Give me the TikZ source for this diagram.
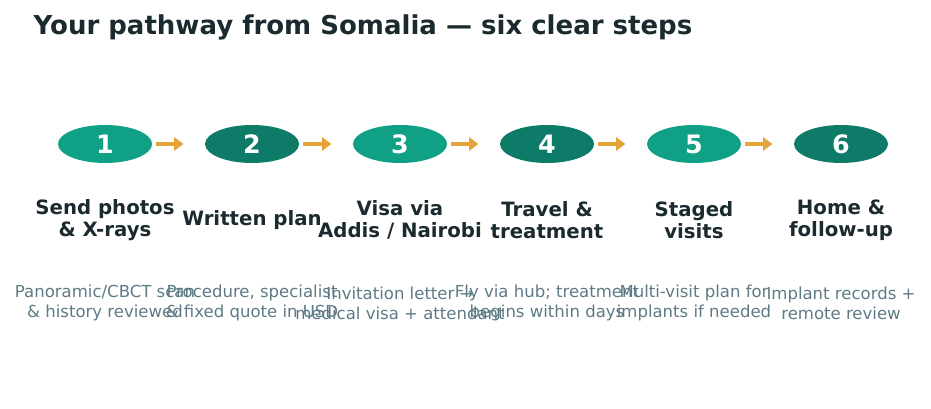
\documentclass[tikz,border=0pt]{standalone}
\usepackage{fontspec}
\setmainfont{DejaVu Sans}
\usetikzlibrary{shapes.geometric,arrows.meta}
\definecolor{tA}{HTML}{10A085}
\definecolor{tB}{HTML}{0E7A68}
\definecolor{ink}{HTML}{1B2A2E}
\definecolor{grey}{HTML}{5E7A85}
\definecolor{org}{HTML}{E5A43A}
\begin{document}
\begin{tikzpicture}[x=0.75pt,y=-0.75pt,
  stepnode/.style={ellipse,minimum width=70.5pt,minimum height=28.5pt,inner sep=0pt,text=white,font=\bfseries\fontsize{19}{19}\selectfont},
  lab/.style={align=center,text=ink,font=\bfseries\fontsize{14.8}{16.5}\selectfont},
  desc/.style={align=center,text=grey,font=\fontsize{12.4}{15}\selectfont},
  arr/.style={-{Triangle[length=7pt,width=10pt]},line width=3.5pt,org}]
\useasboundingbox (0,0) rectangle (931,409);
\node[anchor=west,text=ink,font=\bfseries\fontsize{19.5}{20}\selectfont] (title) at (29,27) {Your pathway from Somalia — six clear steps};
\foreach \i/\x/\c in {1/105/tA,2/252/tB,3/400/tA,4/547/tB,5/694/tA,6/841/tB}{
  \node[stepnode,fill=\c] (s\i) at (\x,144) {\i};
}
\foreach \a/\b in {1/2,2/3,3/4,4/5,5/6}{
  \draw[arr] ([xshift=3pt]s\a.east) -- ([xshift=-16pt]s\b.west);
}
\node[lab] (l1) at (105,220) {Send photos\\\& X-rays};
\node[lab] (l2) at (252,220) {Written plan};
\node[lab] (l3) at (400,220) {Visa via\\Addis / Nairobi};
\node[lab] (l4) at (547,220) {Travel \&\\treatment};
\node[lab] (l5) at (694,220) {Staged\\visits};
\node[lab] (l6) at (841,220) {Home \&\\follow-up};
\node[desc] (d1) at (105,303) {Panoramic/CBCT scan\\\& history reviewed};
\node[desc] (d2) at (252,303) {Procedure, specialist\\\& fixed quote in USD};
\node[desc] (d3) at (400,303) {Invitation letter →\\medical visa + attendant};
\node[desc] (d4) at (547,303) {Fly via hub; treatment\\begins within days};
\node[desc] (d5) at (694,303) {Multi-visit plan for\\implants if needed};
\node[desc] (d6) at (841,303) {Implant records +\\remote review};
\end{tikzpicture}
\end{document}
